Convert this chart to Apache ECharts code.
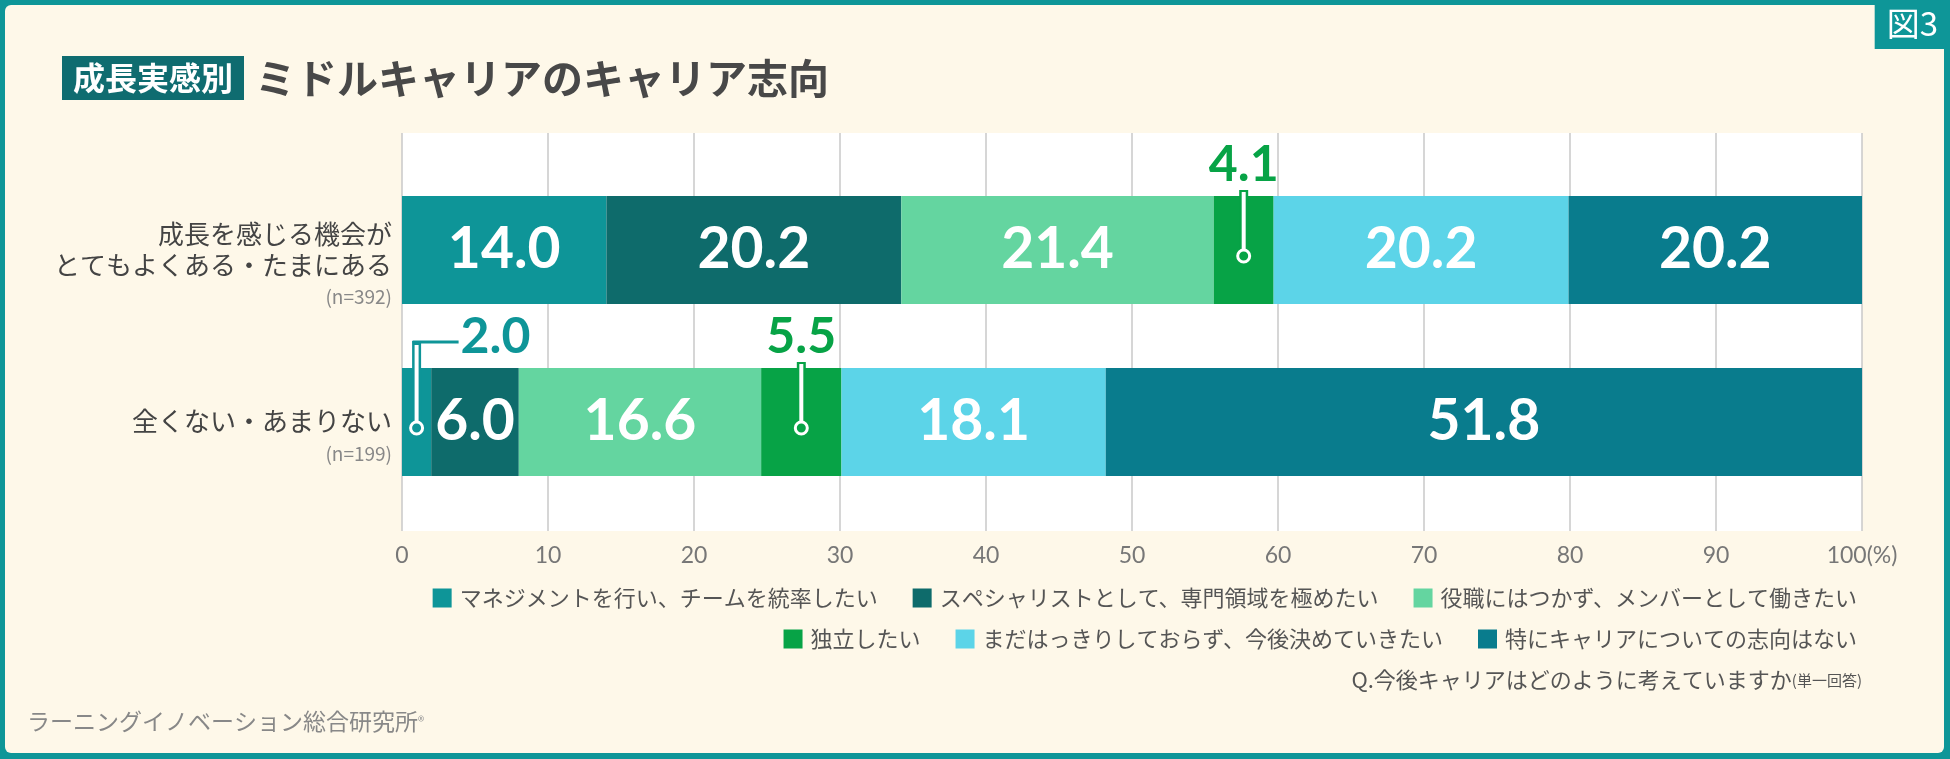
<!DOCTYPE html>
<html>
<head>
<meta charset="utf-8">
<script src="https://cdn.jsdelivr.net/npm/echarts@6/dist/echarts.min.js"></script>
<style>
  html, body { margin: 0; padding: 0; background: #0e9698; }
  #chart { width: 1950px; height: 759px; }
</style>
</head>
<body>
<div id="chart"></div>
<script>
// カテゴリ（行）
const categories = ['成長を感じる機会が\nとてもよくある・たまにある', '全くない・あまりない'];
const sampleSizes = ['(n=392)', '(n=199)'];

// 系列名
const seriesNames = [
  'マネジメントを行い、チームを統率したい',
  'スペシャリストとして、専門領域を極めたい',
  '役職にはつかず、メンバーとして働きたい',
  '独立したい',
  'まだはっきりしておらず、今後決めていきたい',
  '特にキャリアについての志向はない'
];

// 系列の値（%）
const management = [14.0, 2.0];
const specialist = [20.2, 6.0];
const member = [21.4, 16.6];
const independent = [4.1, 5.5];
const undecided = [20.2, 18.1];
const noPreference = [20.2, 51.8];

// 目盛り
const xMin = 0;
const xMax = 100;
const xInterval = 10;

const colors = ['#0e9598', '#0e6b6b', '#64d5a0', '#07a346', '#5cd4e8', '#097c8d'];
const values = [management, specialist, member, independent, undecided, noPreference];
const barWidth = 108;
const fontJP = "'Noto Sans CJK JP', sans-serif";
const fontNum = "Lato, 'Noto Sans', sans-serif";

// 小さい値は吹き出しで表示
const calloutData = [];
values.forEach((arr, s) => {
  arr.forEach((v, r) => {
    if (v < 6) {
      let start = 0;
      for (let k = 0; k < s; k++) start += values[k][r];
      calloutData.push([start + v / 2, r, v, s]);
    }
  });
});

const chart = echarts.init(document.getElementById('chart'));

const barSeries = values.map((data, i) => ({
  name: seriesNames[i],
  type: 'bar',
  stack: 'total',
  xAxisIndex: 1,
  yAxisIndex: 1,
  barWidth: barWidth,
  data: data,
  itemStyle: { color: colors[i] },
  label: {
    show: true,
    position: 'inside',
    formatter: p => (p.value >= 6 ? p.value.toFixed(1) : ''),
    color: '#fff',
    fontSize: 57,
    fontWeight: 'bold',
    fontFamily: fontNum
  }
}));

const calloutSeries = {
  name: 'callout',
  type: 'custom',
  xAxisIndex: 1,
  yAxisIndex: 1,
  z: 5,
  clip: false,
  silent: true,
  encode: { x: 0, y: 1 },
  data: calloutData,
  renderItem: (params, api) => {
    const c = api.coord([api.value(0), api.value(1)]);
    const v = api.value(2);
    const s = api.value(3);
    const color = colors[s];
    const x = c[0];
    const top = c[1] - barWidth / 2;
    const cy = c[1] + 6;
    const ly = top - 31;
    const font = 'bold 50px ' + fontNum;
    const children = [];
    if (s === 0) {
      // 左端の細い帯：L字の引き出し線
      children.push({ type: 'line', shape: { x1: x - 4, y1: ly + 5, x2: x + 42, y2: ly + 5 }, style: { stroke: color, lineWidth: 3 } });
      children.push({ type: 'line', shape: { x1: x, y1: ly + 4, x2: x, y2: cy }, style: { stroke: color, lineWidth: 9 } });
      children.push({ type: 'line', shape: { x1: x, y1: ly + 8, x2: x, y2: cy }, style: { stroke: '#fff', lineWidth: 4 } });
      children.push({ type: 'text', style: { text: v.toFixed(1), x: x + 44, y: ly, fill: color, font: font, align: 'left', verticalAlign: 'middle' } });
    } else {
      children.push({ type: 'line', shape: { x1: x, y1: top - 6, x2: x, y2: cy }, style: { stroke: color, lineWidth: 9 } });
      children.push({ type: 'line', shape: { x1: x, y1: top - 4, x2: x, y2: cy }, style: { stroke: '#fff', lineWidth: 4 } });
      children.push({ type: 'text', style: { text: v.toFixed(1), x: x, y: ly, fill: color, font: font, align: 'center', verticalAlign: 'middle' } });
    }
    children.push({ type: 'circle', shape: { cx: x, cy: cy, r: 6 }, style: { fill: color, stroke: '#fff', lineWidth: 3 } });
    return { type: 'group', children: children };
  }
};

const option = {
  backgroundColor: '#0e9698',
  textStyle: { fontFamily: fontJP },
  animation: false,
  graphic: [
    {
      type: 'rect',
      z: -10,
      shape: { x: 5, y: 5, width: 1939, height: 748, r: 6 },
      style: { fill: '#fef8e9' }
    }
  ],
  title: [
    {
      left: 62,
      top: 55,
      padding: 0,
      text: '{tag|成長実感別}{main|ミドルキャリアのキャリア志向}',
      textStyle: {
        rich: {
          tag: { fontSize: 32, fontWeight: 'bold', color: '#fff', backgroundColor: '#0f6c70', padding: [6, 11, 6, 11], lineHeight: 34, fontFamily: fontJP },
          main: { fontSize: 41, fontWeight: 'bold', color: '#484848', padding: [0, 0, 0, 11], lineHeight: 46, fontFamily: fontJP }
        }
      }
    },
    {
      right: 88,
      top: 667,
      padding: 0,
      text: '{q|Q.今後キャリアはどのように考えていますか}{s|(単一回答)}',
      textStyle: {
        fontWeight: 'normal',
        rich: {
          q: { fontSize: 22, color: '#555', fontWeight: 'normal', fontFamily: fontJP, lineHeight: 26 },
          s: { fontSize: 15, color: '#555', fontWeight: 'normal', fontFamily: fontJP, lineHeight: 26 }
        }
      }
    },
    {
      left: 27,
      top: 707,
      padding: 0,
      text: '{a|ラーニングイノベーション総合研究所}{r|®}',
      textStyle: {
        fontWeight: 'normal',
        rich: {
          a: { fontSize: 23, color: '#888', fontWeight: 'normal', fontFamily: fontJP, lineHeight: 28 },
          r: { fontSize: 13, color: '#999', fontWeight: 'normal', fontFamily: fontJP, lineHeight: 28 }
        }
      }
    },
    {
      right: 0,
      top: 0,
      padding: [5, 12, 7, 12],
      backgroundColor: '#0e9698',
      text: '図3',
      textStyle: { fontSize: 33, color: '#fff', fontWeight: 'normal', lineHeight: 37, fontFamily: fontJP }
    }
  ],
  legend: [
    {
      data: seriesNames.slice(0, 3),
      right: 88,
      top: 582,
      icon: 'rect',
      itemWidth: 19,
      itemHeight: 19,
      itemGap: 35,
      textStyle: { fontSize: 22, color: '#555', padding: [0, 0, 0, 3] }
    },
    {
      data: seriesNames.slice(3),
      right: 88,
      top: 623,
      icon: 'rect',
      itemWidth: 19,
      itemHeight: 19,
      itemGap: 35,
      textStyle: { fontSize: 22, color: '#555', padding: [0, 0, 0, 3] }
    }
  ],
  grid: [
    { left: 402, width: 1460, top: 133, height: 398, show: true, backgroundColor: '#fff', borderWidth: 0 },
    { left: 402, width: 1460, top: 164, height: 344 }
  ],
  xAxis: [
    {
      gridIndex: 0,
      type: 'value',
      min: xMin,
      max: xMax,
      interval: xInterval,
      axisLine: { show: false },
      axisTick: { show: false },
      splitLine: { show: true, lineStyle: { color: '#c8c8c8', width: 1.5 } },
      axisLabel: {
        fontSize: 23,
        color: '#777',
        margin: 13,
        fontFamily: fontNum,
        formatter: v => (v === xMax ? v + '(%)' : String(v))
      }
    },
    { gridIndex: 1, type: 'value', min: xMin, max: xMax, show: false }
  ],
  yAxis: [
    { gridIndex: 0, type: 'value', show: false },
    {
      gridIndex: 1,
      type: 'category',
      inverse: true,
      data: categories,
      axisLine: { show: false },
      axisTick: { show: false },
      splitLine: { show: false },
      axisLabel: {
        margin: 10,
        fontSize: 26,
        color: '#444',
        lineHeight: 31,
        padding: [32, 0, 0, 0],
        align: 'right',
        formatter: (v, i) => v + '\n{n|' + sampleSizes[i] + '}',
        rich: {
          n: { fontSize: 19, color: '#888', lineHeight: 33, align: 'right' }
        }
      }
    }
  ],
  series: barSeries.concat([calloutSeries])
};

chart.setOption(option);
</script>
</body>
</html>
